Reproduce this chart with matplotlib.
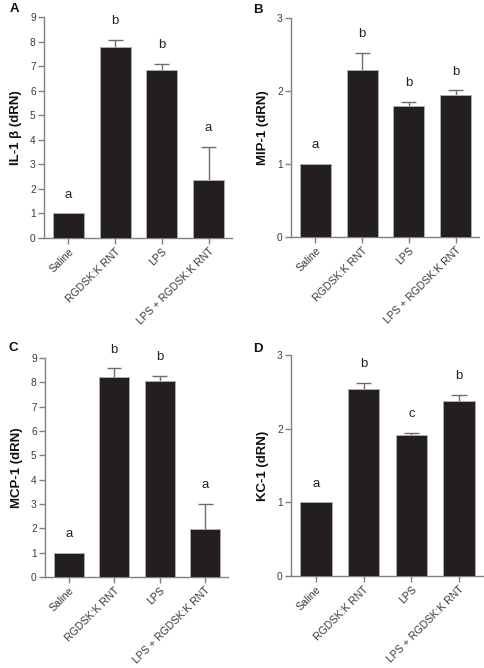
import matplotlib
matplotlib.use("Agg")
import matplotlib.pyplot as plt
import numpy as np

plt.rcParams['font.family'] = ['Liberation Sans', 'DejaVu Sans']

groups = ['Saline', 'RGDSK:K RNT', 'LPS', 'LPS + RGDSK:K RNT']

il1_mean = [1.0, 7.78, 6.86, 2.35]
il1_err = [0.0, 0.30, 0.24, 1.36]
il1_sig = ['a', 'b', 'b', 'a']

mip1_mean = [1.0, 2.29, 1.79, 1.94]
mip1_err = [0.0, 0.23, 0.06, 0.07]
mip1_sig = ['a', 'b', 'b', 'b']

mcp1_mean = [1.0, 8.23, 8.07, 1.96]
mcp1_err = [0.0, 0.34, 0.20, 1.03]
mcp1_sig = ['a', 'b', 'b', 'a']

kc1_mean = [1.0, 2.54, 1.92, 2.37]
kc1_err = [0.0, 0.08, 0.02, 0.09]
kc1_sig = ['a', 'b', 'c', 'b']

# letter, y label, data, y max, axes box in px (left, bottom, right, top), panel letter pos
panels = [
    ('A', 'IL-1 \u03b2 (dRN)', il1_mean, il1_err, il1_sig, 9, [44, 238, 232, 17], (14, 9)),
    ('B', 'MIP-1 (dRN)', mip1_mean, mip1_err, mip1_sig, 3, [291, 237, 479, 18], (258, 10)),
    ('C', 'MCP-1 (dRN)', mcp1_mean, mcp1_err, mcp1_sig, 9, [45, 577, 228, 358], (13, 348)),
    ('D', 'KC-1 (dRN)', kc1_mean, kc1_err, kc1_sig, 3, [291, 576, 483, 355], (258, 349)),
]

W, H = 485, 668
fig = plt.figure(figsize=(W / 100, H / 100), dpi=100)

bar_color = '#231f20'
axis_color = '#808080'

for letter, ylabel, mean, err, sig, ymax, box, lpos in panels:
    l, b, r, t = box
    ax = fig.add_axes([l / W, 1 - b / H, (r - l) / W, (b - t) / H])
    x = np.arange(len(groups))
    mean = np.array(mean)
    err = np.array(err)
    ax.bar(x, mean, width=0.66, color=bar_color, edgecolor='#b0b0b0',
           linewidth=0.6, zorder=3)
    # upper error bars only
    has = err > 0
    ax.vlines(x[has], mean[has], mean[has] + err[has], color='#6e6e6e',
              linewidth=1.0, zorder=2)
    ax.hlines(mean[has] + err[has], x[has] - 0.16, x[has] + 0.16,
              color='#6e6e6e', linewidth=1.0, zorder=2)
    for xi, top, s in zip(x, mean + err, sig):
        ax.annotate(s, (xi, top), xytext=(0, 13.5), textcoords='offset points',
                    ha='center', va='center', fontsize=9.5, color='#222222')

    ax.set_xlim(-0.52, 3.5)
    ax.set_ylim(0, ymax)
    ax.set_yticks(range(0, ymax + 1))
    ax.set_xticks(x)
    ax.set_xticklabels(groups, rotation=45, ha='right', rotation_mode='anchor')
    for sp in ['top', 'right']:
        ax.spines[sp].set_visible(False)
    for sp in ['left', 'bottom']:
        ax.spines[sp].set_color(axis_color)
        ax.spines[sp].set_linewidth(1.0)
    ax.tick_params(axis='both', colors=axis_color, labelcolor='#3a3a3a',
                   labelsize=7.3, length=4, width=1.0, pad=2)
    ax.tick_params(axis='x', labelsize=7.6)
    ax.set_ylabel(ylabel, fontsize=9.5, fontweight='bold', color='#111111',
                  labelpad=6)
    fig.text(lpos[0] / W, 1 - lpos[1] / H, letter, fontsize=9.5,
             fontweight='bold', ha='center', va='center', color='#111111')

fig.savefig('out.png', dpi=100)
